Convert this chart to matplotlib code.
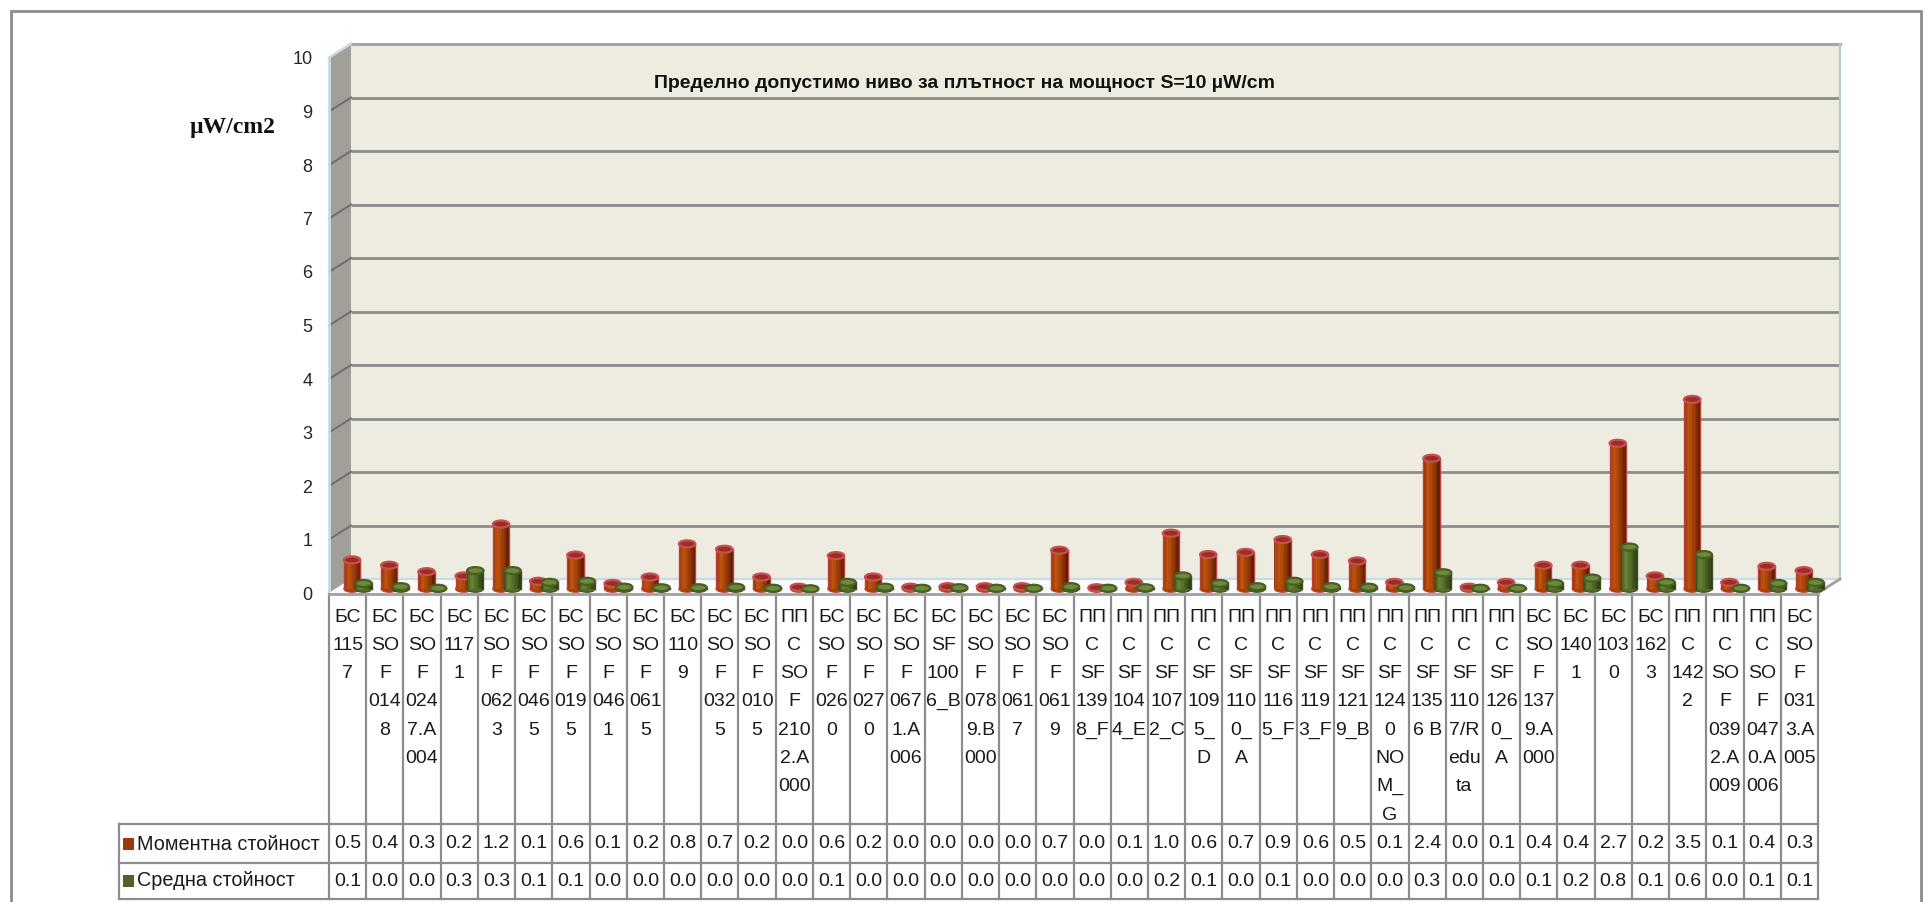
import matplotlib
matplotlib.use('Agg')
import matplotlib.pyplot as plt
from matplotlib.patches import Polygon, Ellipse, Rectangle
from matplotlib.lines import Line2D
from matplotlib.transforms import blended_transform_factory
from matplotlib.colors import to_rgb
import numpy as np

# ---------------- data ----------------
categories = [
    "БС\n115\n7", "БС\nSO\nF\n014\n8", "БС\nSO\nF\n024\n7.A\n004", "БС\n117\n1",
    "БС\nSO\nF\n062\n3", "БС\nSO\nF\n046\n5", "БС\nSO\nF\n019\n5", "БС\nSO\nF\n046\n1",
    "БС\nSO\nF\n061\n5", "БС\n110\n9", "БС\nSO\nF\n032\n5", "БС\nSO\nF\n010\n5",
    "ПП\nС\nSO\nF\n210\n2.A\n000", "БС\nSO\nF\n026\n0", "БС\nSO\nF\n027\n0",
    "БС\nSO\nF\n067\n1.A\n006", "БС\nSF\n100\n6_B", "БС\nSO\nF\n078\n9.B\n000",
    "БС\nSO\nF\n061\n7", "БС\nSO\nF\n061\n9", "ПП\nС\nSF\n139\n8_F", "ПП\nС\nSF\n104\n4_E",
    "ПП\nС\nSF\n107\n2_C", "ПП\nС\nSF\n109\n5_\nD", "ПП\nС\nSF\n110\n0_\nA",
    "ПП\nС\nSF\n116\n5_F", "ПП\nС\nSF\n119\n3_F", "ПП\nС\nSF\n121\n9_B",
    "ПП\nС\nSF\n124\n0\nNO\nM_\nG", "ПП\nС\nSF\n135\n6 B", "ПП\nС\nSF\n110\n7/R\nedu\nta",
    "ПП\nС\nSF\n126\n0_\nA", "БС\nSO\nF\n137\n9.A\n000", "БС\n140\n1", "БС\n103\n0",
    "БС\n162\n3", "ПП\nС\n142\n2", "ПП\nС\nSO\nF\n039\n2.A\n009",
    "ПП\nС\nSO\nF\n047\n0.A\n006", "БС\nSO\nF\n031\n3.A\n005",
]
moment = [0.54, 0.44, 0.32, 0.24, 1.21, 0.14, 0.63, 0.10, 0.22, 0.84,
          0.74, 0.22, 0.03, 0.62, 0.22, 0.03, 0.04, 0.04, 0.04, 0.72,
          0.02, 0.12, 1.04, 0.64, 0.68, 0.92, 0.64, 0.52, 0.12, 2.44,
          0.03, 0.12, 0.44, 0.44, 2.72, 0.24, 3.54, 0.12, 0.42, 0.34]
average = [0.10, 0.04, 0.01, 0.34, 0.34, 0.12, 0.14, 0.03, 0.02, 0.02,
           0.03, 0.01, 0.00, 0.12, 0.03, 0.01, 0.02, 0.01, 0.01, 0.04,
           0.01, 0.02, 0.24, 0.10, 0.04, 0.14, 0.04, 0.03, 0.02, 0.30,
           0.01, 0.01, 0.10, 0.20, 0.78, 0.12, 0.64, 0.01, 0.10, 0.12]
series_names = ["Моментна стойност", "Средна стойност"]
yticks = list(range(0, 11))
title = "Пределно допустимо ниво за плътност на мощност S=10 µW/cm"
ylabel = "µW/cm2"

# ---------------- layout ----------------
W, H = 1928, 902
fig = plt.figure(figsize=(W / 100, H / 100), dpi=100)
fig.patch.set_facecolor('white')


def fx(px):
    return px / W


def fy(py):
    return 1 - py / H


X0, X1, Y0, Y1 = 329, 1818, 593, 58
n = len(categories)
ax = fig.add_axes([fx(X0), fy(Y0), (X1 - X0) / W, (Y0 - Y1) / H])
ax.set_xlim(0, n)
ax.set_ylim(0, 10)
ax.patch.set_visible(False)
for s in ax.spines.values():
    s.set_visible(False)
ax.set_xticks([])
ax.set_yticks(yticks)
ax.set_yticklabels([str(t) for t in yticks])
ax.tick_params(axis='y', length=0, pad=12, labelsize=13, labelcolor='#262626')
for lab in ax.get_yticklabels():
    lab.set_family(['Liberation Sans Narrow', 'Liberation Sans', 'DejaVu Sans'])

slot_px = (X1 - X0) / n
unit_px = (Y0 - Y1) / 10
DX = 22 / slot_px
DY = 14 / unit_px

# walls
side = Polygon([(0, 0), (DX, DY), (DX, 10 + DY), (0, 10)], closed=True,
               facecolor='#A09F98', edgecolor='none', clip_on=False, zorder=0)
ax.add_patch(side)
back = Polygon([(DX, DY), (n + DX, DY), (n + DX, 10 + DY), (DX, 10 + DY)], closed=True,
               facecolor='#EEEBE0', edgecolor='none', clip_on=False, zorder=0)
ax.add_patch(back)
for k in yticks[1:]:
    ax.plot([DX, n + DX], [k + DY, k + DY], color='#8C8C8C', lw=2.0,
            clip_on=False, zorder=1, solid_capstyle='butt')
    ax.plot([0, DX], [k, k + DY], color='#6F6F6A', lw=1.4, clip_on=False, zorder=1)
ax.plot([DX, n + DX], [10 + DY, 10 + DY], color='#A6A6A6', lw=2.2, clip_on=False, zorder=1)
ax.plot([n + DX, n + DX], [DY, 10 + DY], color='#B7CAD3', lw=1.6, clip_on=False, zorder=1)
ax.plot([0, 0], [0, 10], color='#C8DDE8', lw=2.0, clip_on=False, zorder=1)
ax.plot([0, DX], [10, 10 + DY], color='#C8DDE8', lw=1.5, clip_on=False, zorder=1)

# floor
floor = Polygon([(0, 0), (n, 0), (n + DX, DY), (DX, DY)], closed=True,
                facecolor='#FBFBFB', edgecolor='none', clip_on=False, zorder=1)
ax.add_patch(floor)
ax.plot([DX, n + DX], [DY, DY], color='#C6DCE6', lw=1.5, clip_on=False, zorder=1)
ax.plot([n, n + DX], [0, DY], color='#A0A0A0', lw=2.0, clip_on=False, zorder=1)


# bars
def gradient(stops, m):
    rgb = np.array([to_rgb(c) for c in stops])
    pos = np.linspace(0, 1, len(stops))
    t = np.linspace(0, 1, m)
    return [tuple(np.interp(tt, pos, rgb[:, j]) for j in range(3)) for tt in t]


red_stops = ['#943808', '#C2540F', '#AA450A', '#8C3306', '#5C1B04']
green_stops = ['#4A5E24', '#6A8434', '#58712C', '#44591F', '#2E3D16']
NS = 12
red_cols = gradient(red_stops, NS)
green_cols = gradient(green_stops, NS)
BW = 0.44
EH = 7 / unit_px
base = 0.3 * DY
offs = (np.arange(NS) + 0.5) / NS * BW - BW / 2


def draw_cyl(xc, v, cols, cap_face, cap_edge, outline, z):
    ax.add_patch(Ellipse((xc, base), BW, EH, facecolor=cols[NS // 2], edgecolor=outline,
                         lw=0.8, clip_on=False, zorder=z))
    ax.bar(xc + offs, [v] * NS, width=BW / NS * 1.05, bottom=base, color=cols,
           linewidth=0, zorder=z + 0.1, clip_on=False)
    ax.plot([xc - BW / 2, xc - BW / 2], [base, base + v], color=outline, lw=1.0,
            zorder=z + 0.2, clip_on=False)
    ax.plot([xc + BW / 2, xc + BW / 2], [base, base + v], color=outline, lw=1.0,
            zorder=z + 0.2, clip_on=False)
    ax.add_patch(Ellipse((xc, base + v), BW, EH, facecolor=cap_face, edgecolor=cap_edge,
                         lw=1.6, clip_on=False, zorder=z + 0.3))


for i in range(n):
    draw_cyl(i + 0.62, moment[i], red_cols, '#9A2E22', '#C84E50', '#B8403E', 3 + i * 0.01)
    draw_cyl(i + 0.93, average[i], green_cols, '#6C8A3A', '#4A5E24', '#3E5020', 4 + i * 0.01)

# ---------------- data table ----------------
trans = blended_transform_factory(ax.transData, fig.transFigure)
LC = '#8C8C8C'
LW = 1.6
T_TOP, R1, R2, T_BOT = 594, 824, 863, 899
LEG_L = 119
for i in range(n + 1):
    fig.add_artist(Line2D([i, i], [fy(T_TOP), fy(T_BOT)], transform=trans,
                          color=LC, lw=LW))
for yy in (R1, R2, T_BOT):
    fig.add_artist(Line2D([fx(LEG_L), fx(X1)], [fy(yy), fy(yy)], color=LC, lw=LW))
fig.add_artist(Line2D([fx(LEG_L), fx(LEG_L)], [fy(R1), fy(T_BOT)], color=LC, lw=LW))
fig.add_artist(Line2D([fx(X0), fx(X1)], [fy(T_TOP), fy(T_TOP)], color='#A0A0A0', lw=2.0))

tfont = ['Liberation Sans', 'DejaVu Sans']
TFS = 14
for i, cat in enumerate(categories):
    for k, line in enumerate(cat.split('\n')):
        fig.text(i + 0.5, fy(617 + 28.3 * k), line, transform=trans, ha='center',
                 va='center', fontsize=TFS, family=tfont, color='#1A1A1A')
for i in range(n):
    fig.text(i + 0.5, fy(844), f"{moment[i]:.1f}", transform=trans, ha='center',
             va='center', fontsize=TFS, family=tfont, color='#1A1A1A')
    fig.text(i + 0.5, fy(881), f"{average[i]:.1f}", transform=trans, ha='center',
             va='center', fontsize=TFS, family=tfont, color='#1A1A1A')

key_cols = ['#A0360C', '#4F6228']
for r, (name, yy) in enumerate(zip(series_names, (844, 881))):
    fig.add_artist(Rectangle((fx(123), fy(yy + 6)), 11 / W, 12 / H, transform=fig.transFigure,
                             facecolor=key_cols[r], edgecolor='none'))
    fig.text(fx(137), fy(yy), name, ha='left', va='center', fontsize=14.3,
             family=tfont, color='#1A1A1A')

# ---------------- texts ----------------
fig.text(fx(965), fy(84), title, ha='center', va='center', fontsize=14, fontweight='bold',
         family=['Liberation Sans Narrow', 'Liberation Sans', 'DejaVu Sans'], color='#111111')
fig.text(fx(232), fy(127), ylabel, ha='center', va='center', fontsize=17, fontweight='bold',
         family=['Liberation Serif', 'DejaVu Serif'], color='#111111')

# outer frame
fig.add_artist(Rectangle((fx(11), fy(910)), (1921 - 11) / W, (910 - 11) / H,
                         transform=fig.transFigure, facecolor='none',
                         edgecolor='#8C8C8C', lw=2.0))

fig.savefig('out.png', dpi=100)
